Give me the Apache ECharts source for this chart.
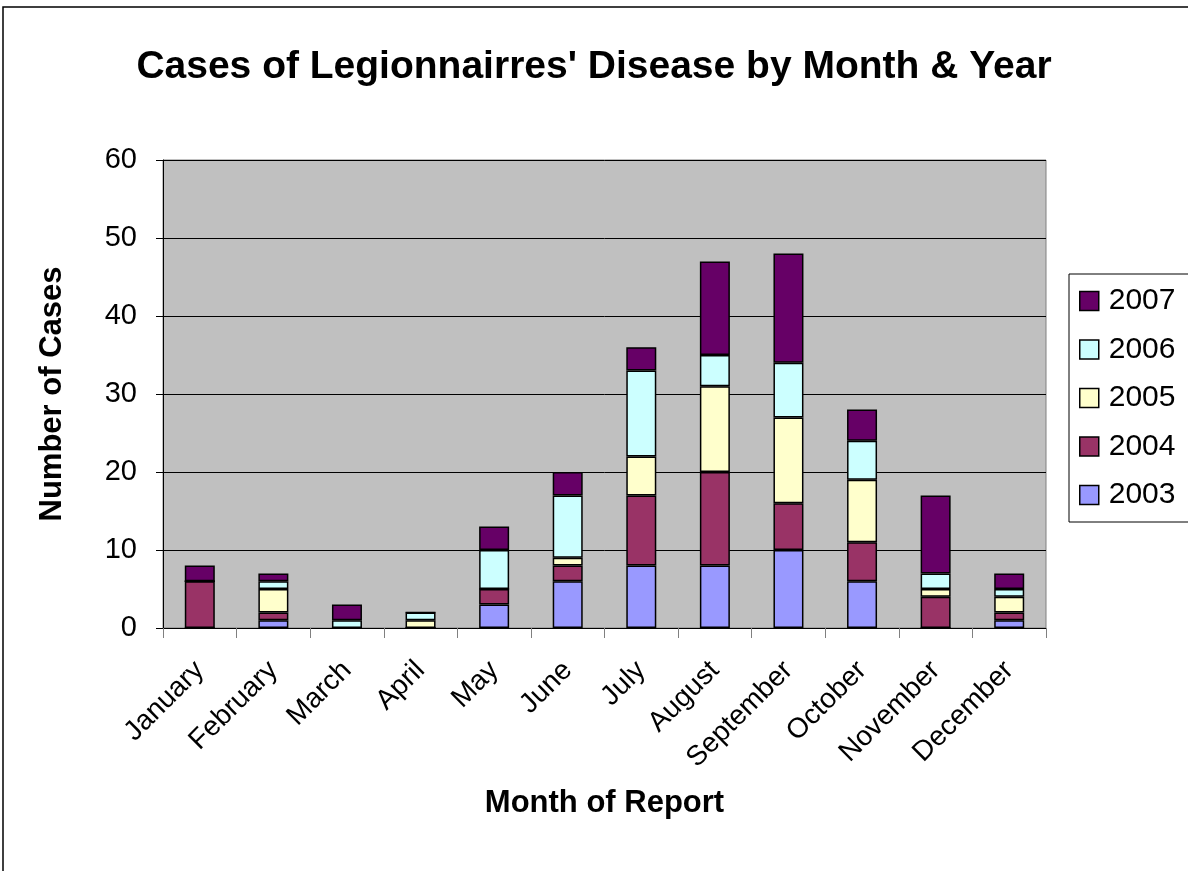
<!DOCTYPE html>
<html>
<head>
<meta charset="utf-8">
<script src="https://cdn.jsdelivr.net/npm/echarts@6/dist/echarts.min.js"></script>
<style>
  html, body { margin: 0; padding: 0; background: #fff; }
  #chart { width: 1188px; height: 871px; }
</style>
</head>
<body>
<div id="chart"></div>
<script>
const months = ['January', 'February', 'March', 'April', 'May', 'June',
  'July', 'August', 'September', 'October', 'November', 'December'];
const y2003 = [0, 1, 0, 0, 3, 6, 8, 8, 10, 6, 0, 1];
const y2004 = [6, 1, 0, 0, 2, 2, 9, 12, 6, 5, 4, 1];
const y2005 = [0, 3, 0, 1, 0, 1, 5, 11, 11, 8, 1, 2];
const y2006 = [0, 1, 1, 1, 5, 8, 11, 4, 7, 5, 2, 1];
const y2007 = [2, 1, 2, 0, 3, 3, 3, 12, 14, 4, 10, 2];
const yTicks = [0, 10, 20, 30, 40, 50, 60];

const years = [
  { name: '2003', data: y2003, color: '#9999FF' },
  { name: '2004', data: y2004, color: '#993366' },
  { name: '2005', data: y2005, color: '#FFFFCC' },
  { name: '2006', data: y2006, color: '#CCFFFF' },
  { name: '2007', data: y2007, color: '#660066' }
];

const font = 'Liberation Sans, Arial, sans-serif';
const chart = echarts.init(document.getElementById('chart'));

chart.setOption({
  animation: false,
  textStyle: { fontFamily: font, color: '#000' },
  graphic: [{
    type: 'rect',
    shape: { x: 3, y: 7, width: 1400, height: 1000 },
    style: { fill: 'none', stroke: '#000', lineWidth: 1.5 },
    silent: true
  }],
  title: {
    text: "Cases of Legionnairres' Disease by Month & Year",
    left: 'center',
    top: 43,
    textStyle: { fontSize: 39, fontWeight: 'bold', fontFamily: font, color: '#000' }
  },
  legend: {
    orient: 'vertical',
    left: 1069,
    top: 274,
    data: ['2007', '2006', '2005', '2004', '2003'],
    icon: 'rect',
    itemWidth: 19,
    itemHeight: 19,
    itemGap: 18.5,
    padding: [12, 30, 12, 10],
    borderColor: '#000',
    borderWidth: 1,
    itemStyle: { borderColor: '#000', borderWidth: 1.5 },
    textStyle: { fontSize: 30, fontFamily: font, color: '#000', padding: [0, 0, 0, 5] }
  },
  grid: {
    left: 163, right: 142, top: 160, bottom: 243,
    show: true,
    backgroundColor: '#C0C0C0',
    borderColor: '#808080',
    borderWidth: 1
  },
  xAxis: {
    type: 'category',
    data: months,
    name: 'Month of Report',
    nameLocation: 'middle',
    nameGap: 160,
    nameTextStyle: { fontSize: 31, fontWeight: 'bold', fontFamily: font, color: '#000' },
    axisLine: { lineStyle: { color: '#000', width: 1 } },
    axisTick: { show: true, length: 10, lineStyle: { color: '#808080' } },
    axisLabel: { rotate: 45, margin: 38, fontSize: 28, fontFamily: font, color: '#000', interval: 0 }
  },
  yAxis: {
    type: 'value',
    min: yTicks[0],
    max: yTicks[yTicks.length - 1],
    interval: 10,
    name: 'Number of Cases',
    nameLocation: 'middle',
    nameGap: 95,
    nameTextStyle: { fontSize: 31, fontWeight: 'bold', fontFamily: font, color: '#000' },
    axisLine: { show: true, lineStyle: { color: '#000', width: 1 } },
    axisTick: { show: true, length: 7, lineStyle: { color: '#000' } },
    axisLabel: { margin: 26, fontSize: 29, fontFamily: font, color: '#000' },
    splitLine: { show: true, lineStyle: { color: '#000', width: 1 } }
  },
  series: years.map(y => ({
    name: y.name,
    type: 'bar',
    stack: 'total',
    barWidth: 30,
    data: y.data,
    itemStyle: { color: y.color, borderColor: '#000', borderWidth: 1.5 }
  }))
});
</script>
</body>
</html>
